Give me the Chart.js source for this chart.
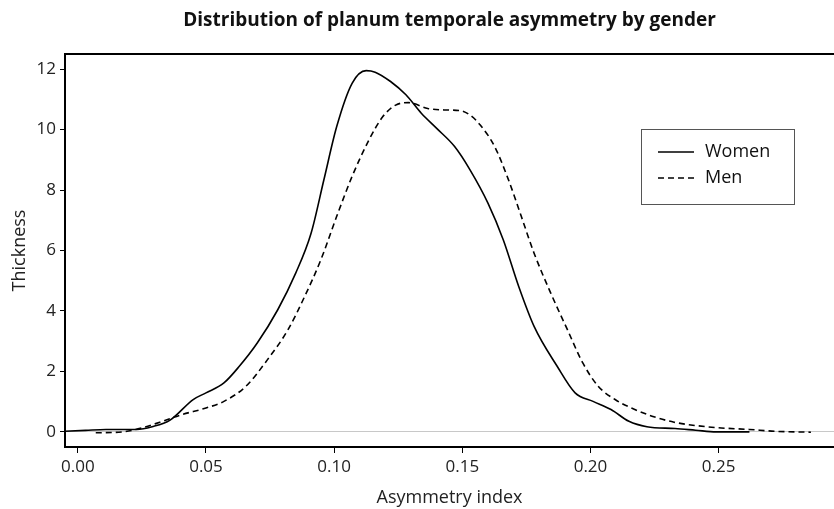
<!DOCTYPE html>
<html>
<head>
<meta charset="utf-8">
<script src="https://cdn.jsdelivr.net/npm/chart.js@4/dist/chart.umd.min.js"></script>
<style>
  html, body { margin: 0; padding: 0; background: #fff; }
  #wrap { width: 834px; height: 509px; }
</style>
</head>
<body>
<div id="wrap"><canvas id="chart"></canvas></div>
<script>
/* ---- Data ---- */
const xWomen = [-0.005, 0.003, 0.011, 0.023, 0.029, 0.036, 0.045, 0.050, 0.057, 0.063, 0.070, 0.078, 0.085, 0.091, 0.096, 0.101, 0.107, 0.1125, 0.116, 0.122, 0.128, 0.134, 0.140, 0.147, 0.153, 0.160, 0.166, 0.172, 0.178, 0.187, 0.194, 0.201, 0.208, 0.215, 0.222, 0.233, 0.241, 0.249, 0.262];
const yWomen = [0.02, 0.05, 0.08, 0.08, 0.17, 0.39, 1.07, 1.29, 1.62, 2.17, 2.94, 4.04, 5.25, 6.57, 8.34, 10.1, 11.53, 11.95, 11.9, 11.59, 11.15, 10.54, 10.04, 9.44, 8.67, 7.57, 6.35, 4.81, 3.49, 2.17, 1.29, 1.01, 0.74, 0.35, 0.17, 0.11, 0.055, 0.0, 0.0];

const xMen = [0.007, 0.0175, 0.025, 0.032, 0.0405, 0.050, 0.057, 0.0656, 0.074, 0.082, 0.0885, 0.0948, 0.101, 0.107, 0.1136, 0.119, 0.124, 0.129, 0.1365, 0.143, 0.149, 0.153, 0.157, 0.1626, 0.168, 0.173, 0.178, 0.1845, 0.191, 0.197, 0.203, 0.2096, 0.216, 0.224, 0.2326, 0.241, 0.251, 0.262, 0.272, 0.286];
const yMen = [-0.03, 0.0, 0.13, 0.32, 0.57, 0.79, 1.01, 1.51, 2.39, 3.38, 4.48, 5.69, 7.13, 8.45, 9.66, 10.43, 10.81, 10.89, 10.7, 10.65, 10.63, 10.48, 10.15, 9.44, 8.34, 7.13, 5.91, 4.59, 3.38, 2.28, 1.51, 1.07, 0.79, 0.52, 0.32, 0.21, 0.13, 0.08, 0.02, -0.01];

const xTicks = [0, 0.05, 0.10, 0.15, 0.20, 0.25];
const yTicks = [0, 2, 4, 6, 8, 10, 12];

const seriesLabels = ['Women', 'Men'];
const chartTitle = 'Distribution of planum temporale asymmetry by gender';

const FONT = "'Open Sans', 'DejaVu Sans', sans-serif";

/* ---- Helpers ---- */
const toPoints = (xs, ys) => xs.map((x, i) => ({ x, y: ys[i] }));

/* ---- Plugin: title over plot, top frame line, boxed legend ---- */
const frameAndLegend = {
  id: 'frameAndLegend',
  afterDraw(chart) {
    const { ctx, chartArea } = chart;
    ctx.save();

    // title, centred over the plot area
    ctx.font = "bold 19px " + FONT;
    ctx.fillStyle = '#111';
    ctx.textAlign = 'center';
    ctx.textBaseline = 'middle';
    ctx.fillText(chartTitle, (chartArea.left + chartArea.right) / 2, 21);

    // top border of plot
    ctx.strokeStyle = '#000';
    ctx.lineWidth = 2;
    ctx.beginPath();
    ctx.moveTo(chartArea.left, chartArea.top);
    ctx.lineTo(chartArea.right, chartArea.top);
    ctx.stroke();

    // legend box
    const bx = 641.5, by = 129.5, bw = 153, bh = 75;
    ctx.strokeStyle = '#555';
    ctx.lineWidth = 1;
    ctx.strokeRect(bx, by, bw, bh);

    ctx.font = "18px " + FONT;
    ctx.textAlign = 'left';
    ctx.fillStyle = '#111';
    chart.data.datasets.forEach((ds, i) => {
      const yy = 152 + i * 26;
      ctx.strokeStyle = ds.borderColor;
      ctx.lineWidth = 1.4;
      ctx.setLineDash(ds.borderDash || []);
      ctx.beginPath();
      ctx.moveTo(658, yy);
      ctx.lineTo(694, yy);
      ctx.stroke();
      ctx.setLineDash([]);
      ctx.fillText(ds.label, 705, yy);
    });
    ctx.restore();
  }
};

/* ---- Chart ---- */
new Chart(document.getElementById('chart'), {
  type: 'line',
  data: {
    datasets: [
      {
        label: seriesLabels[0],
        data: toPoints(xWomen, yWomen),
        borderColor: '#000',
        borderWidth: 1.6,
        pointRadius: 0,
        cubicInterpolationMode: 'monotone',
        fill: false,
      },
      {
        label: seriesLabels[1],
        data: toPoints(xMen, yMen),
        borderColor: '#000',
        borderWidth: 1.6,
        borderDash: [6, 4],
        pointRadius: 0,
        cubicInterpolationMode: 'monotone',
        fill: false,
      },
    ],
  },
  options: {
    responsive: true,
    maintainAspectRatio: false,
    animation: false,
    layout: { padding: { left: 0, right: 0, top: 54, bottom: 0 } },
    plugins: {
      legend: { display: false },
      tooltip: { enabled: false },
      title: { display: false },
    },
    scales: {
      x: {
        type: 'linear',
        min: -0.005,
        max: 0.295,
        afterBuildTicks: s => { s.ticks = xTicks.map(v => ({ value: v })); },
        afterFit: s => { s.height = 62; },
        border: { display: true, color: '#000', width: 2 },
        grid: { drawOnChartArea: false, drawTicks: true, tickLength: 6, tickColor: '#000' },
        ticks: {
          color: '#222',
          font: { family: FONT, size: 17 },
          padding: 4,
          maxRotation: 0,
          callback: v => v.toFixed(2),
        },
        title: {
          display: true,
          text: 'Asymmetry index',
          color: '#222',
          font: { family: FONT, size: 18 },
          padding: { top: 0, bottom: 0 },
        },
      },
      y: {
        type: 'linear',
        min: -0.5,
        max: 12.5,
        afterBuildTicks: s => { s.ticks = yTicks.map(v => ({ value: v })); },
        afterFit: s => { s.width = 65; },
        border: { display: true, color: '#000', width: 2 },
        grid: {
          drawOnChartArea: true,
          drawTicks: true,
          tickLength: 5,
          tickColor: '#000',
          color: c => (c.tick && c.tick.value === 0 ? '#c8c8c8' : 'transparent'),
        },
        ticks: {
          color: '#222',
          font: { family: FONT, size: 17 },
          padding: 4,
        },
        title: {
          display: true,
          text: 'Thickness',
          color: '#222',
          font: { family: FONT, size: 18 },
          padding: { top: 9, bottom: 0 },
        },
      },
    },
  },
  plugins: [frameAndLegend],
});
</script>
</body>
</html>
